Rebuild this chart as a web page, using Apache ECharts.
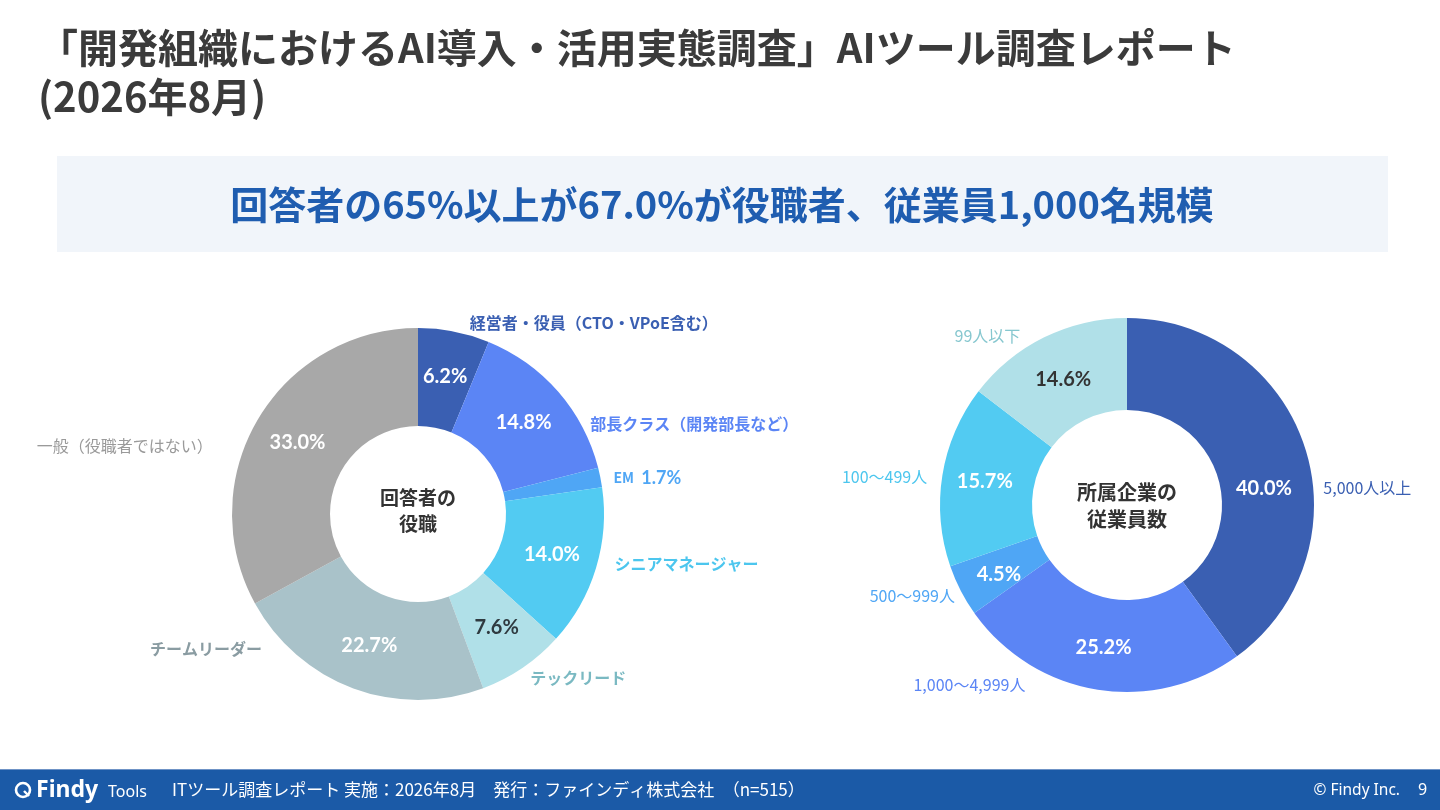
<!DOCTYPE html>
<html lang="ja">
<head>
<meta charset="UTF-8" />
<title>AIツール調査レポート</title>
<script src="https://cdn.jsdelivr.net/npm/echarts@6/dist/echarts.min.js"></script>
<style>
  html, body { margin: 0; padding: 0; width: 100%; height: 100%; background: #fff; }
  #main { width: 1440px; height: 810px; }
</style>
</head>
<body>
<div id="main"></div>
<script>
// 回答者の役職
var roleNames = ["経営者・役員（CTO・VPoE含む）", "部長クラス（開発部長など）", "EM", "シニアマネージャー", "テックリード", "チームリーダー", "一般（役職者ではない）"];
var roleValues = [6.2, 14.8, 1.7, 14.0, 7.6, 22.7, 33.0];
// 所属企業の従業員数
var sizeNames = ["5,000人以上", "1,000〜4,999人", "500〜999人", "100〜499人", "99人以下"];
var sizeValues = [40.0, 25.2, 4.5, 15.7, 14.6];

var jp = '"Noto Sans CJK JP", "Noto Sans", sans-serif';
var num = 'Lato, "Noto Sans", sans-serif';

// styles
var roleFill = ["#3a5fb2", "#5b85f5", "#4fa6f5", "#52cbf2", "#b0e0e8", "#a9c2c9", "#a8a8a8"];
var rolePct = ["#fff", "#fff", null, "#fff", "#2f3a40", "#fff", "#fff"];
var roleText = ["#3a5fb2", "#5b85f5", "#4fa6f5", "#4cc6ee", "#7ab9c2", "#8a9ca2", "#9a9a9a"];
var roleWeight = ["bold", "bold", "bold", "bold", "bold", "bold", "normal"];
var roleReach = [[9, 9], [-49, 64], [-2, 10], [-14, 27], [12, -4], [-42, 101], [-52, 85]];
var roleShift = [0, 0, 0, 0, -2, 0, 0];

var sizeFill = ["#3a5fb2", "#5b85f5", "#4fa6f5", "#52cbf2", "#b0e0e8"];
var sizePct = ["#fff", "#fff", "#fff", "#fff", "#333"];
var sizeText = ["#3a5fb2", "#5b85f5", "#4fa6f5", "#4cc6ee", "#86c7cf"];
var sizeReach = [[-132, 139], [-5, 67], [12, -10], [-12, 22], [2, 18]];
var sizeShift = [28, 0, 4, 0, 4];

function ring(names, values, fill, pct, txt, weight, reach, shift, center, radius) {
  var inner = names.map(function (n, i) {
    return {
      name: n, value: values[i],
      itemStyle: { color: fill[i] },
      label: { show: pct[i] !== null, color: pct[i] || "#fff" }
    };
  });
  var outer = names.map(function (n, i) {
    var item = {
      name: n, value: values[i],
      label: { color: txt[i], fontWeight: weight[i] },
      labelLine: { show: false, length: reach[i][0], length2: reach[i][1] }
    };
    if (pct[i] === null) {
      // 値も外側に表示
      item.label.formatter = function (p) { return "{n|" + p.name + "}  {v|" + p.value.toFixed(1) + "%}"; };
      item.label.rich = {
        n: { fontFamily: jp, fontSize: 14, color: txt[i] },
        v: { fontFamily: num, fontSize: 18, fontWeight: "bold", color: txt[i] }
      };
    }
    return item;
  });
  return [
    {
      type: "pie", center: center, radius: radius, startAngle: 90, clockwise: true,
      avoidLabelOverlap: false, silent: true,
      itemStyle: { borderWidth: 0 },
      label: {
        position: "inside",
        formatter: function (p) { return p.value.toFixed(1) + "%"; },
        fontFamily: num, fontWeight: "bold", fontSize: 20
      },
      labelLayout: function (p) { return { dy: shift[p.dataIndex] }; },
      labelLine: { show: false },
      data: inner
    },
    {
      type: "pie", center: center, radius: radius, startAngle: 90, clockwise: true,
      avoidLabelOverlap: false, silent: true,
      itemStyle: { color: "rgba(0,0,0,0)", borderWidth: 0 },
      label: { position: "outside", formatter: "{b}", fontFamily: jp, fontSize: 16 },
      labelLine: { show: false },
      data: outer
    }
  ];
}

var chart = echarts.init(document.getElementById("main"));
var option = {
  animation: false,
  backgroundColor: "#fff",
  title: {
    text: "「開発組織におけるAI導入・活用実態調査」AIツール調査レポート\n(2026年8月)",
    left: 38, top: 23, padding: 0,
    textStyle: { fontFamily: jp, fontSize: 40, fontWeight: "bold", color: "#3b3b3b", lineHeight: 49 }
  },
  graphic: [
    { type: "rect", shape: { x: 57, y: 156, width: 1331, height: 96 }, style: { fill: "#f1f5fa" } },
    {
      type: "text", x: 722, y: 205,
      style: { text: "回答者の65%以上が67.0%が役職者、従業員1,000名規模", fill: "#1f5db0",
        fontFamily: jp, fontSize: 38, fontWeight: "bold", align: "center", verticalAlign: "middle" }
    },
    {
      type: "text", x: 418, y: 511,
      style: { text: "回答者の\n役職", fill: "#333", fontFamily: jp, fontSize: 19, fontWeight: "bold",
        lineHeight: 26, align: "center", verticalAlign: "middle" }
    },
    {
      type: "text", x: 1127, y: 506,
      style: { text: "所属企業の\n従業員数", fill: "#333", fontFamily: jp, fontSize: 20, fontWeight: "bold",
        lineHeight: 27, align: "center", verticalAlign: "middle" }
    },
    // フッター
    { type: "rect", shape: { x: 0, y: 769, width: 1440, height: 41 }, style: { fill: "#1b5aa7" } },
    { type: "rect", shape: { x: 0, y: 769, width: 1440, height: 1 }, style: { fill: "#6f93c6" } },
    { type: "circle", shape: { cx: 23, cy: 790, r: 7 }, style: { fill: "none", stroke: "#fff", lineWidth: 2.6 } },
    { type: "line", shape: { x1: 24, y1: 791, x2: 29, y2: 796 }, style: { stroke: "#fff", lineWidth: 2.4 } },
    {
      type: "text", x: 36, y: 790,
      style: { text: "Findy", fill: "#fff", fontFamily: '"Noto Sans"', fontSize: 23, fontWeight: "bold", verticalAlign: "middle" }
    },
    {
      type: "text", x: 108, y: 792,
      style: { text: "Tools", fill: "#fff", fontFamily: '"Noto Sans"', fontSize: 16, verticalAlign: "middle" }
    },
    {
      type: "text", x: 172, y: 790,
      style: { text: "ITツール調査レポート 実施：2026年8月　発行：ファインディ株式会社　（n=515）", fill: "#fff",
        fontFamily: jp, fontSize: 17, verticalAlign: "middle" }
    },
    {
      type: "text", x: 1400, y: 791,
      style: { text: "© Findy Inc.", fill: "#fff", fontFamily: '"Noto Sans"', fontSize: 15.5, align: "right", verticalAlign: "middle" }
    },
    {
      type: "text", x: 1418, y: 790,
      style: { text: "9", fill: "#fff", fontFamily: '"Noto Sans"', fontSize: 16, verticalAlign: "middle" }
    }
  ],
  series: [].concat(
    ring(roleNames, roleValues, roleFill, rolePct, roleText, roleWeight, roleReach, roleShift, [418, 514], [88, 186]),
    ring(sizeNames, sizeValues, sizeFill, sizePct, sizeText, ["normal", "normal", "normal", "normal", "normal"], sizeReach, sizeShift, [1127, 505], [95, 187])
  )
};
chart.setOption(option);
</script>
</body>
</html>
